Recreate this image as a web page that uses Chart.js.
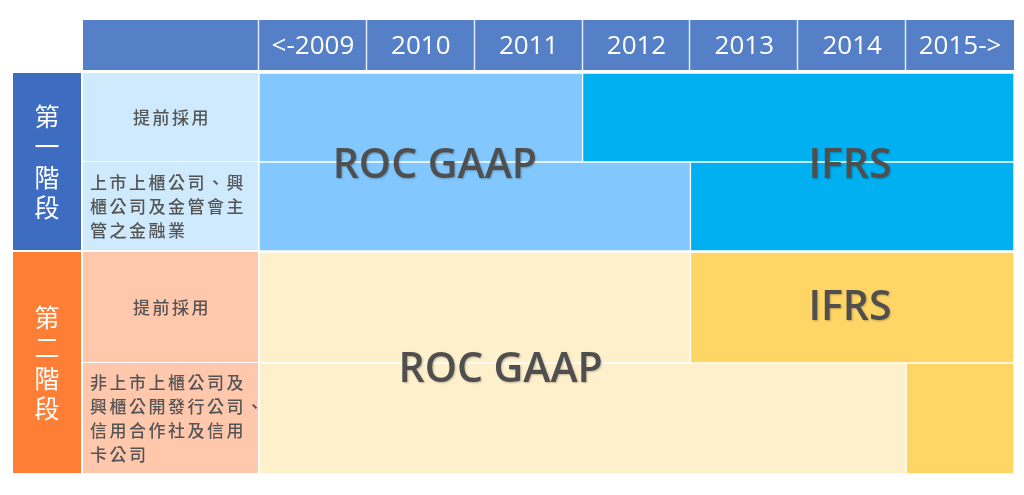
<!DOCTYPE html>
<html lang="zh-Hant">
<head>
<meta charset="UTF-8">
<title>ROC GAAP 轉換 IFRS 時程</title>
<script src="https://cdn.jsdelivr.net/npm/chart.js@4"></script>
<style>
  html, body { margin: 0; padding: 0; background: #fff; }
  #wrap { position: relative; width: 1024px; height: 495px; }
  canvas { position: absolute; left: 0; }
  #c1 { top: 0; }
  #c2 { top: 251px; }
</style>
</head>
<body>
<div id="wrap">
  <canvas id="c1" width="1024" height="251"></canvas>
  <canvas id="c2" width="1024" height="223"></canvas>
</div>
<script>
// 表頭年度
const years = ['<-2009', '2010', '2011', '2012', '2013', '2014', '2015->'];
// 階段名稱
const stageNames = ['第一階段', '第二階段'];
// 各列適用對象（已斷行）
const stage1Rows = [['提前採用'], ['上市上櫃公司、興', '櫃公司及金管會主', '管之金融業']];
const stage2Rows = [['提前採用'], ['非上市上櫃公司及', '興櫃公開發行公司、', '信用合作社及信用', '卡公司']];
// 仍採 ROC GAAP 的年數 / 改採 IFRS 的年數
const stage1Gaap = [3, 4];
const stage1Ifrs = [4, 3];
const stage2Gaap = [4, 6];
const stage2Ifrs = [3, 1];

Chart.defaults.font.family = '"Open Sans", sans-serif';

// 畫左側階段欄、對象欄、表頭底色與大字標籤
const tablePlugin = {
  id: 'table',
  beforeDraw(chart, args, opts) {
    if (!opts.header) return;
    const ctx = chart.ctx;
    const area = chart.chartArea;
    const x = chart.scales.x;
    ctx.save();
    ctx.fillStyle = '#5580C8';
    ctx.fillRect(83, 20, area.right - 83, 50);
    ctx.strokeStyle = 'rgba(255,255,255,0.85)';
    ctx.lineWidth = 1.5;
    for (let i = 0; i < years.length; i++) {
      const px = Math.round(x.getPixelForValue(i)) - 0.5;
      ctx.beginPath();
      ctx.moveTo(px, 20);
      ctx.lineTo(px, 70);
      ctx.stroke();
    }
    ctx.restore();
  },
  beforeDatasetsDraw(chart, args, opts) {
    const ctx = chart.ctx;
    const area = chart.chartArea;
    const y = chart.scales.y;
    ctx.save();

    // 階段欄
    ctx.fillStyle = opts.stageColor;
    ctx.fillRect(13, area.top, 68, area.bottom - area.top - 1);
    ctx.fillStyle = '#fff';
    ctx.font = '25px "Noto Sans CJK TC"';
    ctx.textAlign = 'center';
    ctx.textBaseline = 'middle';
    const chars = Array.from(opts.stage);
    const midY = (area.top + area.bottom) / 2;
    chars.forEach((c, i) => {
      ctx.fillText(c, 47, midY + (i - (chars.length - 1) / 2) * 30.5);
    });

    // 對象欄
    chart.data.labels.forEach((lines, i) => {
      const top = y.getPixelForValue(i - 0.5);
      const bottom = y.getPixelForValue(i + 0.5);
      ctx.fillStyle = opts.rowColor;
      ctx.fillRect(83, top, area.left - 1 - 83, bottom - top - 1);
      ctx.fillStyle = '#555';
      ctx.font = '500 17px "Noto Sans CJK TC"';
      ctx.letterSpacing = '2.5px';
      const cy = (top + bottom) / 2;
      const single = lines.length === 1;
      ctx.textAlign = single ? 'center' : 'left';
      lines.forEach((t, j) => {
        ctx.fillText(t, single ? 172 : 90, cy + (j - (lines.length - 1) / 2) * 23.8);
      });
      ctx.letterSpacing = '0px';
    });
    ctx.restore();
  },
  afterDatasetsDraw(chart, args, opts) {
    const ctx = chart.ctx;
    ctx.save();
    ctx.font = '600 41px "Open Sans"';
    ctx.textAlign = 'center';
    ctx.textBaseline = 'middle';
    ctx.fillStyle = '#4F4F4F';
    ctx.shadowColor = 'rgba(0,0,0,0.25)';
    ctx.shadowBlur = 2;
    ctx.shadowOffsetX = 1;
    ctx.shadowOffsetY = 1;
    (opts.marks || []).forEach(m => {
      ctx.fillText(m.text, chart.scales.x.getPixelForValue(m.x), chart.scales.y.getPixelForValue(m.y) + 4);
    });
    ctx.restore();
  }
};

function makeChart(id, rows, gaap, ifrs, cfg) {
  const scales = {
    x: { type: 'linear', min: 0, max: 7, stacked: true, display: false },
    y: {
      type: 'category', stacked: true,
      ticks: { display: false },
      grid: { display: false, drawTicks: false },
      border: { display: false },
      afterFit: s => { s.width = 246; }
    }
  };
  if (cfg.header) {
    scales.years = {
      type: 'category', position: 'top', labels: years, offset: true,
      grid: { display: false, drawTicks: false },
      border: { display: false },
      ticks: { color: '#fff', font: { size: 26, lineHeight: 1.2 }, padding: 11, maxRotation: 0, autoSkip: false },
      afterFit: s => { s.height = 53; }
    };
  }
  return new Chart(document.getElementById(id), {
    type: 'bar',
    data: {
      labels: rows,
      datasets: [
        { label: 'ROC GAAP', data: gaap, backgroundColor: cfg.gaapColor, xAxisID: 'x', yAxisID: 'y' },
        { label: 'IFRS', data: ifrs, backgroundColor: cfg.ifrsColor, xAxisID: 'x', yAxisID: 'y' }
      ]
    },
    options: {
      indexAxis: 'y',
      responsive: false,
      animation: false,
      layout: { padding: { left: 13, right: 10, top: cfg.top, bottom: 0 } },
      datasets: {
        bar: { barPercentage: 1, categoryPercentage: 1, borderWidth: 1, borderColor: '#fff', borderSkipped: false }
      },
      scales,
      plugins: {
        legend: { display: false },
        tooltip: { enabled: false },
        table: {
          header: cfg.header, stage: cfg.stage, stageColor: cfg.stageColor,
          rowColor: cfg.rowColor, marks: cfg.marks
        }
      }
    },
    plugins: [tablePlugin]
  });
}

makeChart('c1', stage1Rows, stage1Gaap, stage1Ifrs, {
  header: true, top: 20, stage: stageNames[0],
  stageColor: '#3D6CC0', rowColor: '#CFE9FD',
  gaapColor: '#82C8FF', ifrsColor: '#00B0F0',
  marks: [{ text: 'ROC GAAP', x: 1.63, y: 0.5 }, { text: 'IFRS', x: 5.48, y: 0.5 }]
});

makeChart('c2', stage2Rows, stage2Gaap, stage2Ifrs, {
  header: false, top: 1, stage: stageNames[1],
  stageColor: '#FF7E36', rowColor: '#FFC8AD',
  gaapColor: '#FFF0CC', ifrsColor: '#FFD566',
  marks: [{ text: 'ROC GAAP', x: 2.24, y: 0.53 }, { text: 'IFRS', x: 5.48, y: -0.03 }]
});
</script>
</body>
</html>
